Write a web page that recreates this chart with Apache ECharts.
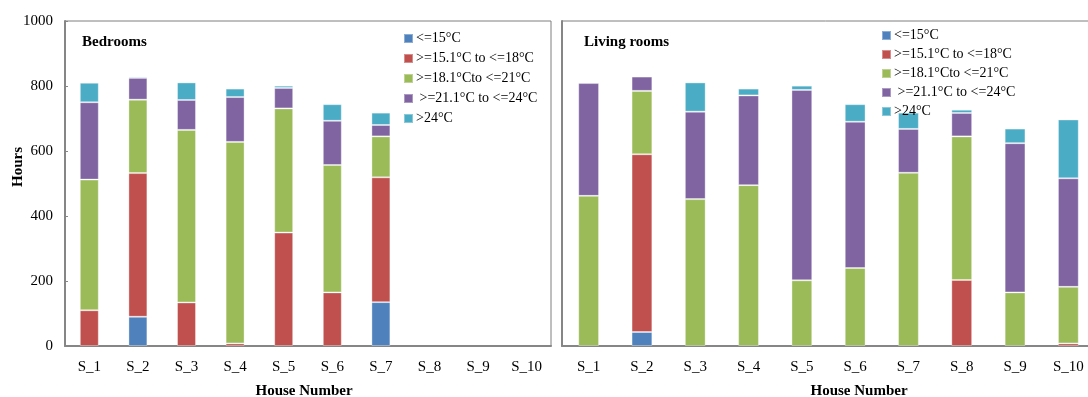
<!DOCTYPE html>
<html>
<head>
<meta charset="utf-8">
<script src="https://cdn.jsdelivr.net/npm/echarts@6/dist/echarts.min.js"></script>
<style>
  html, body { margin: 0; padding: 0; background: #fff; }
  #chart { width: 1088px; height: 397px; }
</style>
</head>
<body>
<div id="chart"></div>
<script>
// House labels shared by both panels
const houses = ['S_1', 'S_2', 'S_3', 'S_4', 'S_5', 'S_6', 'S_7', 'S_8', 'S_9', 'S_10'];

// Temperature bands (stack order bottom to top)
const bands = ['<=15°C', '>=15.1°C to <=18°C', '>=18.1°Cto <=21°C', ' >=21.1°C to <=24°C', '>24°C'];
const bandColors = ['#4F81BD', '#C0504D', '#9BBB59', '#8064A2', '#4BACC6'];

// Hours in each band — bedrooms (no data for S_8 to S_10)
const bedLe15   = [0,   90,  0,   0,   0,   0,   135, null, null, null];
const bed15to18 = [110, 442, 134, 8,   349, 165, 384, null, null, null];
const bed18to21 = [402, 226, 531, 620, 382, 392, 126, null, null, null];
const bed21to24 = [238, 67,  92,  138, 63,  136, 35,  null, null, null];
const bedGt24   = [60,  4,   54,  26,  7,   51,  38,  null, null, null];

// Hours in each band — living rooms
const livLe15   = [0,   43,  0,   0,   0,   0,   0,   0,   0,   0];
const liv15to18 = [0,   547, 0,   0,   0,   0,   0,   203, 0,   8];
const liv18to21 = [462, 195, 452, 495, 202, 240, 533, 442, 165, 174];
const liv21to24 = [347, 44,  269, 276, 586, 450, 135, 72,  459, 334];
const livGt24   = [0,   0,   90,  21,  13,  54,  50,  10,  45,  181];

// Y axis ticks
const yMin = 0, yMax = 1000, yStep = 200;

const bedData = [bedLe15, bed15to18, bed18to21, bed21to24, bedGt24];
const livData = [livLe15, liv15to18, liv18to21, liv21to24, livGt24];

const font = 'Liberation Serif';

function makeSeries(data, idx) {
  return bands.map((name, i) => ({
    name: name,
    type: 'bar',
    stack: 'panel' + idx,
    xAxisIndex: idx,
    yAxisIndex: idx,
    barWidth: '39%',
    itemStyle: { color: bandColors[i], borderColor: 'rgba(255,255,255,0.35)', borderWidth: 1 },
    data: data[i].map(v => (v === 0 ? null : v)),
    emphasis: { disabled: true }
  }));
}

const xAxisBase = {
  type: 'category',
  data: houses,
  axisLine: { lineStyle: { color: '#868686', width: 2 } },
  axisTick: { show: false },
  axisLabel: { fontFamily: font, fontSize: 15, color: '#000', margin: 14 }
};

const yAxisBase = {
  type: 'value',
  min: yMin, max: yMax, interval: yStep,
  splitLine: { show: false },
  axisLine: { show: true, lineStyle: { color: '#868686', width: 2 } }
};

const legendBase = {
  orient: 'vertical',
  itemWidth: 9,
  itemHeight: 9,
  icon: 'rect',
  selectedMode: false,
  data: bands,
  textStyle: { fontFamily: font, fontSize: 14, color: '#000', lineHeight: 15, padding: [0, 0, 0, -2] }
};

const gridBase = {
  top: 21, bottom: 51, show: true, borderColor: '#7f7f7f', borderWidth: 1,
  containLabel: false, outerBoundsMode: 'none'
};

const option = {
  animation: false,
  grid: [
    Object.assign({ left: 65, right: 537 }, gridBase),
    Object.assign({ left: 562, right: -7 }, gridBase)
  ],
  xAxis: [
    Object.assign({ gridIndex: 0 }, xAxisBase),
    Object.assign({ gridIndex: 1 }, xAxisBase)
  ],
  yAxis: [
    Object.assign({ gridIndex: 0 }, yAxisBase, {
      axisTick: { show: true, inside: true, length: 3, lineStyle: { color: '#868686' } },
      axisLabel: { fontFamily: font, fontSize: 15, color: '#000', margin: 12, formatter: v => String(v) }
    }),
    Object.assign({ gridIndex: 1 }, yAxisBase, {
      axisTick: { show: false },
      axisLabel: { show: false }
    })
  ],
  legend: [
    Object.assign({ left: 398, top: 26, itemGap: 5 }, legendBase),
    Object.assign({ left: 876, top: 23, itemGap: 4 }, legendBase)
  ],
  graphic: [
    { type: 'text', left: 82, top: 35, style: { text: 'Bedrooms', font: 'bold 15px "Liberation Serif"', fill: '#000' } },
    { type: 'text', left: 584, top: 35, style: { text: 'Living rooms', font: 'bold 15px "Liberation Serif"', fill: '#000' } },
    { type: 'text', x: 304, y: 391, style: { text: 'House Number', font: 'bold 15px "Liberation Serif"', fill: '#000', align: 'center', verticalAlign: 'middle' } },
    { type: 'text', x: 859, y: 391, style: { text: 'House Number', font: 'bold 15px "Liberation Serif"', fill: '#000', align: 'center', verticalAlign: 'middle' } },
    { type: 'text', x: 18, y: 167, rotation: Math.PI / 2, style: { text: 'Hours', font: 'bold 15px "Liberation Serif"', fill: '#000', align: 'center', verticalAlign: 'middle' } }
  ],
  series: makeSeries(bedData, 0).concat(makeSeries(livData, 1))
};

const chart = echarts.init(document.getElementById('chart'), null, { renderer: 'canvas' });
chart.setOption(option);
</script>
</body>
</html>
